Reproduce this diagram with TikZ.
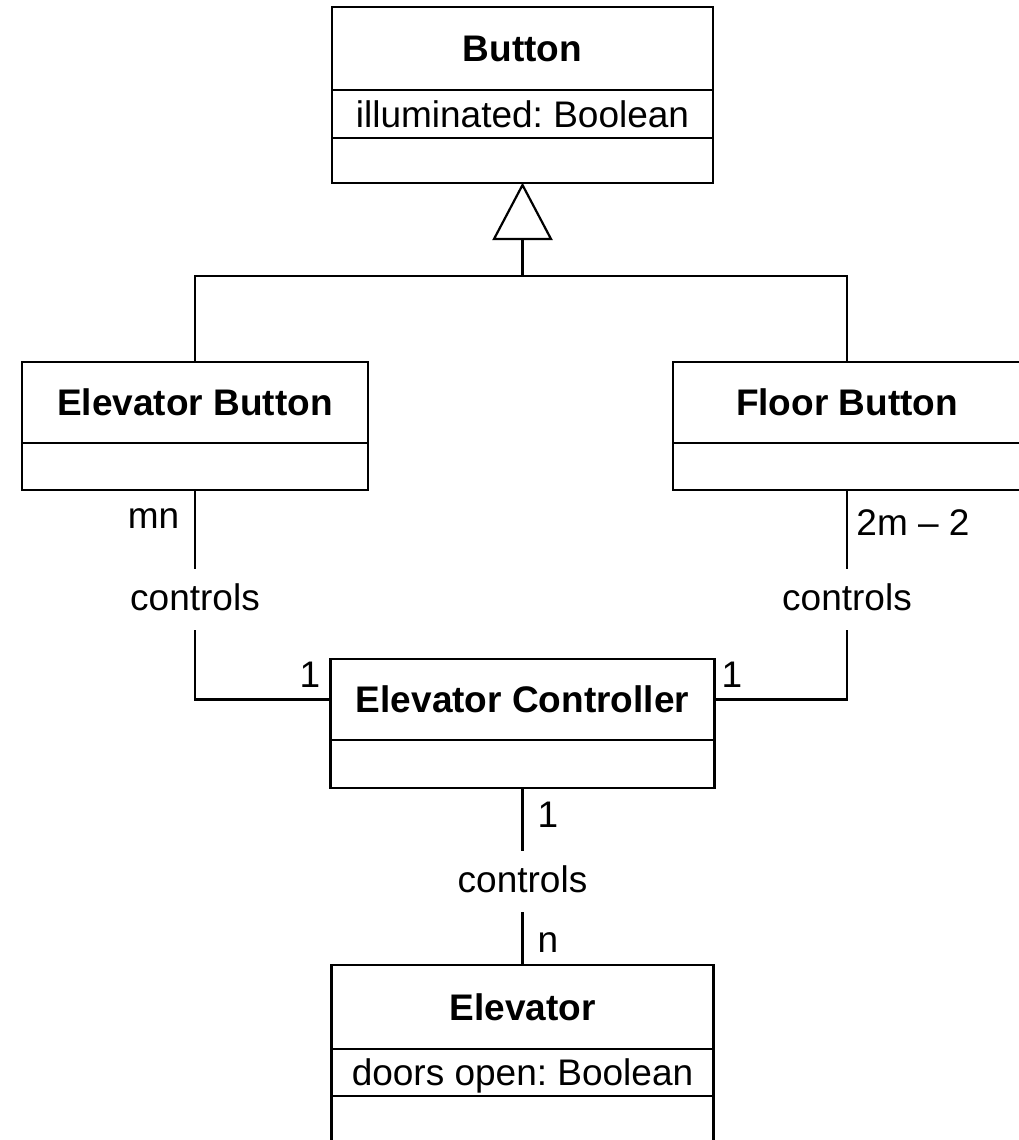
\documentclass[tikz,border=0pt]{standalone}
\usepackage{fontspec}
\setmainfont{Liberation Sans}
\usetikzlibrary{calc}
\frenchspacing
\begin{document}
\begin{tikzpicture}[x=1pt,y=-1pt,
  lw/.style={line width=2.2pt},
  sect/.style={draw, lw, rectangle, inner sep=0pt, outer sep=0pt, text depth=0pt, font=\fontsize{37}{44}\selectfont\frenchspacing},
  cname/.style={sect, font=\bfseries\fontsize{37}{44}\selectfont},
  lbl/.style={inner sep=0pt, outer sep=0pt, font=\fontsize{37}{44}\selectfont, anchor=base},
  assoc/.style={lbl, fill=white, inner xsep=4pt, inner ysep=14pt, text depth=6pt},
  conn/.style={lw}
]
\useasboundingbox (0,0) rectangle (1019,1140);
\clip (0,0) rectangle (1019,1140);

% Button
\node[cname, minimum width=381pt, minimum height=83pt] (button) at (522.5,48.5) {Button};
\node[sect, minimum width=381pt, minimum height=48pt, anchor=north] (buttonattr) at (button.south) {illuminated: Boolean};
\node[sect, minimum width=381pt, minimum height=45pt, anchor=north] (buttonops) at (buttonattr.south) {};

% Elevator Button
\node[cname, minimum width=346pt, minimum height=81pt] (ebtn) at (195,402.5) {Elevator Button};
\node[sect, minimum width=346pt, minimum height=47pt, anchor=north] (ebtnops) at (ebtn.south) {};

% Floor Button
\node[cname, minimum width=348pt, minimum height=81pt] (fbtn) at (847,402.5) {Floor Button};
\node[sect, minimum width=348pt, minimum height=47pt, anchor=north] (fbtnops) at (fbtn.south) {};

% Elevator Controller
\node[cname, minimum width=384pt, minimum height=81pt] (ctrl) at (522.5,699.5) {Elevator Controller};
\node[sect, minimum width=384pt, minimum height=48pt, anchor=north] (ctrlops) at (ctrl.south) {};

% Elevator
\node[cname, minimum width=382pt, minimum height=84pt] (elev) at (522.5,1007) {Elevator};
\node[sect, minimum width=382pt, minimum height=47pt, anchor=north] (elevattr) at (elev.south) {doors open: Boolean};
\node[sect, minimum width=382pt, minimum height=46pt, anchor=north] (elevops) at (elevattr.south) {};

% Generalization
\coordinate (j) at (522.5,276);
\coordinate (tribase) at (522.5,239);
\coordinate (apex) at ($(buttonops.south)+(0,2)$);
\draw[conn] (ebtn.north) |- (j) -| (fbtn.north);
\draw[conn] (j) -- (tribase);
\draw[conn, fill=white] (apex) -- ($(tribase)+(-28.5,0)$) -- ($(tribase)+(28.5,0)$) -- cycle;

% Associations
\draw[conn] (ebtnops.south) |- (ctrl.west);
\draw[conn] (fbtnops.south) |- (ctrl.east);
\draw[conn] (ctrlops.south) -- (elev.north);

% Labels
\node[lbl] (mn) at (153.5,528) {mn};
\node[assoc] (c1) at (195,610) {controls};
\node[lbl] (one1) at (310,687) {1};
\node[lbl] (m2) at (913,535) {2m – 2};
\node[assoc] (c2) at (847,610) {controls};
\node[lbl] (one2) at (732,687) {1};
\node[lbl] (one3) at (548,827) {1};
\node[assoc] (c3) at (522.5,892) {controls};
\node[lbl] (nn) at (548,952) {n};
\end{tikzpicture}
\end{document}
